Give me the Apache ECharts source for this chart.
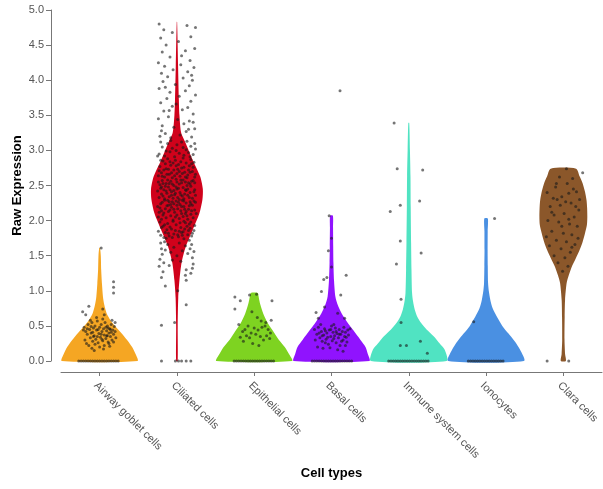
<!DOCTYPE html>
<html>
<head>
<meta charset="utf-8">
<script src="https://cdn.jsdelivr.net/npm/echarts@6/dist/echarts.min.js"></script>
<style>
html,body{margin:0;padding:0;background:#fff;}
#chart{width:603px;height:489px;}
</style>
</head>
<body>
<div id="chart"></div>
<script>
// ---------- DATA ----------
var categories = ['Airway goblet cells','Ciliated cells','Epithelial cells','Basal cells','Immune system cells','Ionocytes','Clara cells'];
var colors = ['#F5A623','#D0021B','#7ED321','#9013FE','#50E3C2','#4A90E2','#8B572A'];
var yTicks = ['0.0','0.5','1.0','1.5','2.0','2.5','3.0','3.5','4.0','4.5','5.0'];

// violin density profiles: [expression value, relative half-width]
var airwayDensity = [[0,0.98],[0.1,0.93],[0.2,0.84],[0.3,0.71],[0.4,0.56],[0.49,0.41],[0.58,0.28],[0.68,0.18],[0.8,0.12],[0.92,0.085],[1.1,0.06],[1.3,0.04],[1.5,0.03],[1.61,0.01]];
var ciliatedDensity = [[0,0.02],[0.5,0.02],[0.9,0.034],[1.15,0.065],[1.4,0.12],[1.63,0.23],[1.87,0.41],[2.1,0.58],[2.3,0.66],[2.45,0.67],[2.63,0.6],[2.86,0.41],[3.1,0.23],[3.25,0.11],[3.5,0.065],[3.72,0.05],[4.2,0.03],[4.83,0.005]];
var epithelialDensity = [[0,0.98],[0.1,0.9],[0.2,0.79],[0.3,0.64],[0.44,0.47],[0.56,0.33],[0.68,0.23],[0.8,0.16],[0.87,0.13],[0.93,0.11],[0.97,0.09]];
var basalDensity = [[0,0.98],[0.1,0.94],[0.2,0.88],[0.3,0.75],[0.44,0.56],[0.56,0.4],[0.68,0.26],[0.8,0.16],[0.92,0.1],[1.15,0.065],[1.4,0.05],[1.63,0.044],[1.9,0.04],[2.07,0.035]];
var immuneDensity = [[0,0.98],[0.16,0.93],[0.25,0.8],[0.35,0.65],[0.45,0.46],[0.54,0.32],[0.63,0.22],[0.73,0.155],[0.85,0.11],[0.97,0.085],[1.3,0.07],[1.68,0.06],[2.2,0.05],[2.63,0.044],[3.0,0.03],[3.39,0.012]];
var ionocytesDensity = [[0,0.98],[0.16,0.88],[0.28,0.74],[0.39,0.58],[0.5,0.42],[0.63,0.28],[0.75,0.17],[0.87,0.11],[1.0,0.07],[1.11,0.052],[1.35,0.044],[1.58,0.04],[1.85,0.042],[2.03,0.045]];
var claraDensity = [[0,0.065],[0.1,0.045],[0.3,0.03],[0.63,0.034],[0.87,0.044],[1.11,0.085],[1.22,0.14],[1.34,0.215],[1.46,0.32],[1.58,0.42],[1.7,0.5],[1.82,0.56],[1.94,0.61],[2.06,0.62],[2.18,0.615],[2.29,0.6],[2.41,0.56],[2.53,0.5],[2.63,0.42],[2.74,0.33]];

// jittered cells: [jitter (hundredths of a band), expression value]
var airwayPoints = [[2,1.61],[18,1.13],[18,1.05],[18,0.97],[-14,0.78],[-22,0.70],[-18,0.66],[6,0.66],[20,0.55],[4,0.74],
[-20,0.48],[-18,0.42],[-16,0.38],[-15,0.52],[-13,0.45],[-12,0.33],[-11,0.40],[-10,0.55],[-9,0.28],[-8,0.47],[-7,0.36],[-6,0.50],[-5,0.31],[-4,0.44],[-3,0.57],[-2,0.26],[-1,0.39],[0,0.48],[1,0.34],[2,0.52],[3,0.42],[4,0.29],[5,0.46],[6,0.37],[7,0.55],[8,0.32],[9,0.43],[10,0.50],[11,0.27],[12,0.40],[13,0.46],[14,0.35],[15,0.52],[16,0.30],[17,0.44],[18,0.38],[19,0.49],[20,0.42],[21,0.33],[-19,0.30],[-17,0.25],[-14,0.22],[-12,0.58],[-10,0.18],[-8,0.35],[-6,0.24],[-4,0.62],[-2,0.45],[0,0.20],[2,0.38],[4,0.60],[6,0.22],[8,0.48],[10,0.36],[12,0.25],[14,0.45],[16,0.58],[18,0.27],[-21,0.44],[-16,0.46],[-9,0.41],[-3,0.35],[3,0.31],[9,0.36],[15,0.41],[-7,0.15],[5,0.17],[11,0.47],[-11,0.49],[13,0.21],
[-27,0],[-24,0],[-21,0],[-18,0],[-15,0],[-12,0],[-9,0],[-6,0],[-3,0],[0,0],[3,0],[6,0],[9,0],[12,0],[15,0],[18,0],[21,0],[24,0]];

var ciliatedPoints = [[-20,0],[-2,0],[2,0],[6,0],[12,0],[18,0],
[-20,0.51],[-3,0.55],[12,0.80],[1,1.00],[-15,1.07],[-20,1.19],[12,1.15],[11,1.22],[20,1.32],
[-22,1.45],[-19,1.52],[-17,1.40],[-20,1.60],[-15,1.58],[-12,1.66],[-8,1.55],[-4,1.62],[0,1.50],[3,1.68],[7,1.57],[11,1.64],[14,1.53],[17,1.60],[20,1.47],[22,1.56],[-21,1.68],[-16,1.70],[16,1.72],[19,1.66],[-23,1.35],[21,1.38],[-6,1.44],[5,1.42],[-10,1.36],[12,1.30],[-18,1.27],[18,1.25],[-14,1.75],[9,1.74],
[-24,1.85],[-21,1.79],[-18,1.92],[-15,1.83],[-12,1.96],[-10,1.78],[-7,1.88],[-4,1.81],[-1,1.94],[2,1.77],[5,1.90],[8,1.84],[11,1.97],[14,1.80],[17,1.89],[20,1.82],[23,1.93],[-22,1.98],[-17,1.76],[-13,1.87],[-9,1.91],[-5,1.99],[-2,1.86],[1,1.80],[4,1.97],[7,1.79],[10,1.88],[13,1.92],[16,1.95],[19,1.78],[22,1.86],[-20,1.90],[-11,1.82],[-6,1.76],[3,1.85],[9,1.99],[15,1.86],[18,1.98],[-16,1.94],[6,1.83],
[-24,2.05],[-22,2.18],[-20,2.02],[-19,2.26],[-17,2.11],[-16,2.29],[-14,2.04],[-13,2.21],[-11,2.13],[-10,2.27],[-8,2.07],[-7,2.19],[-5,2.01],[-4,2.24],[-3,2.12],[-1,2.28],[0,2.08],[1,2.17],[3,2.03],[4,2.23],[5,2.14],[7,2.29],[8,2.06],[9,2.20],[11,2.10],[12,2.25],[14,2.02],[15,2.16],[17,2.27],[18,2.09],[20,2.22],[21,2.04],[23,2.15],[24,2.26],
[-23,2.12],[-21,2.24],[-18,2.08],[-15,2.17],[-12,2.29],[-9,2.15],[-6,2.27],[-2,2.05],[2,2.26],[6,2.10],[10,2.16],[13,2.07],[16,2.21],[19,2.14],[22,2.28],[-20,2.14],[-11,2.22],[-4,2.16],[6,2.20],[12,2.13],[18,2.24],[-25,2.20],[25,2.10],[0,2.22],[-8,2.23],[9,2.28],
[-25,2.42],[-23,2.33],[-22,2.51],[-20,2.38],[-19,2.57],[-17,2.44],[-16,2.31],[-14,2.53],[-13,2.39],[-11,2.48],[-10,2.34],[-8,2.56],[-7,2.41],[-5,2.32],[-4,2.50],[-3,2.37],[-1,2.59],[0,2.45],[1,2.33],[3,2.52],[4,2.40],[5,2.58],[7,2.35],[8,2.47],[9,2.31],[11,2.55],[12,2.43],[14,2.36],[15,2.54],[17,2.40],[18,2.49],[20,2.32],[21,2.57],[23,2.44],[24,2.36],
[-24,2.55],[-21,2.46],[-18,2.35],[-15,2.49],[-12,2.58],[-9,2.44],[-6,2.52],[-2,2.39],[2,2.46],[6,2.54],[10,2.38],[13,2.50],[16,2.33],[19,2.56],[22,2.41],[-20,2.48],[-14,2.42],[-7,2.36],[-1,2.48],[5,2.37],[11,2.44],[17,2.52],[23,2.54],[-18,2.53],[0,2.55],[8,2.58],[-10,2.53],[14,2.45],[-4,2.43],[3,2.30],
[-24,2.64],[-22,2.77],[-20,2.68],[-18,2.85],[-16,2.62],[-14,2.74],[-12,2.88],[-10,2.66],[-8,2.79],[-6,2.61],[-4,2.72],[-2,2.86],[0,2.67],[2,2.80],[4,2.63],[6,2.75],[8,2.89],[10,2.69],[12,2.82],[14,2.65],[16,2.78],[18,2.87],[20,2.70],[22,2.83],[24,2.66],
[-23,2.71],[-19,2.63],[-15,2.81],[-11,2.73],[-7,2.68],[-3,2.64],[1,2.73],[5,2.84],[9,2.76],[13,2.61],[17,2.69],[21,2.76],[-17,2.72],[-9,2.84],[-1,2.78],[7,2.67],[15,2.72],[-13,2.66],[3,2.70],[11,2.62],[19,2.81],[-5,2.82],[23,2.62],[-21,2.86],
[-23,2.95],[-19,3.05],[-16,2.92],[-12,3.10],[-9,2.98],[-6,3.03],[-3,2.91],[0,3.08],[3,2.96],[6,3.12],[9,2.93],[12,3.01],[15,2.97],[18,3.06],[21,2.94],[24,3.02],[-21,3.12],[-14,2.99],[-1,3.00],[8,3.04],[17,2.91],[-8,3.14],[13,3.13],[-25,2.92],[23,3.10],
[-22,3.20],[-15,3.24],[-8,3.18],[4,3.22],[12,3.27],[19,3.19],[23,3.31],[-19,3.35],[-4,3.33],[9,3.38],[16,3.42],[-24,3.45],[-11,3.48],[1,3.44],[21,3.52],[-17,3.56],[7,3.58],[14,3.61],[-6,3.63],[-21,3.68],[18,3.70],[-13,3.74],[3,3.77],[24,3.79],[-9,3.83],[11,3.85],[-23,3.88],[16,3.92],[-2,3.94],[-18,3.98],[20,4.00],[8,4.03],[-12,4.05],[-20,4.10],[14,4.12],[-5,4.15],[22,4.18],[-16,4.20],[5,4.22],[-24,4.25],[17,4.28],[-9,4.33],[-19,4.40],[11,4.42],[23,4.45],[-14,4.50],[2,4.55],[-21,4.60],[18,4.62],[-6,4.68],[-17,4.72],[24,4.75],[-23,4.80],[13,4.78],[-10,3.57],[-15,3.90],[21,3.40],[6,4.35],[-1,3.66],[19,4.07],[-20,3.28],[15,3.30]];

var epithelialPoints = [[-25,0.91],[-18,0.86],[-25,0.74],[-6,0.94],[3,0.95],[23,0.86],[-3,0.70],[4,0.62],[-8,0.50],[-12,0.45],[-15,0.42],[-4,0.40],[0,0.47],[5,0.44],[10,0.48],[14,0.50],[18,0.45],[21,0.40],[-10,0.36],[-6,0.33],[2,0.38],[8,0.35],[12,0.30],[16,0.36],[20,0.32],[-14,0.28],[-2,0.25],[6,0.22],[-18,0.34],[15,0.55],[9,0.57],[-20,0.52],[22,0.58],
[-26,0],[-23,0],[-20,0],[-17,0],[-14,0],[-11,0],[-8,0],[-5,0],[-2,0],[1,0],[4,0],[7,0],[10,0],[13,0],[16,0],[19,0],[22,0],[25,0]];

var basalPoints = [[11,3.85],[-3,2.07],[0,1.75],[-4,1.57],[0,1.34],[-10,1.16],[-6,1.19],[19,1.22],[-13,0.99],[12,0.94],[-9,0.77],[-20,0.69],[-17,0.61],[17,0.61],[8,0.68],[-22,0.45],[-19,0.38],[-17,0.48],[-15,0.33],[-13,0.42],[-12,0.28],[-10,0.37],[-9,0.46],[-7,0.31],[-6,0.40],[-4,0.24],[-3,0.44],[-1,0.35],[0,0.50],[1,0.29],[2,0.41],[4,0.36],[5,0.47],[6,0.26],[7,0.39],[9,0.33],[10,0.45],[11,0.22],[12,0.38],[14,0.42],[15,0.30],[16,0.48],[17,0.35],[18,0.41],[20,0.27],[21,0.44],[-21,0.30],[-18,0.20],[-14,0.52],[-11,0.18],[-8,0.26],[-5,0.34],[-2,0.19],[3,0.52],[8,0.16],[13,0.28],[19,0.34],[22,0.37],[-16,0.40],[-8,0.43],[3,0.32],[10,0.38],[15,0.14],[-1,0.45],[6,0.42],[-12,0.36],[18,0.22],[24,0.46],
[-25,0],[-22,0],[-19,0],[-16,0],[-13,0],[-10,0],[-7,0],[-4,0],[-1,0],[2,0],[5,0],[8,0],[11,0],[14,0],[17,0],[20,0],[23,0],[26,0]];

var immunePoints = [[-19,3.39],[-15,2.74],[18,2.72],[-11,2.22],[14,2.28],[-24,2.13],[-11,1.71],[16,1.54],[-16,1.38],[-10,0.88],[-10,0.55],[-11,0.22],[-3,0.22],[15,0.28],[24,0.11],
[-26,0],[-23,0],[-20,0],[-17,0],[-14,0],[-11,0],[-8,0],[-5,0],[-2,0],[1,0],[4,0],[7,0],[10,0],[13,0],[16,0],[19,0],[22,0],[25,0]];

var ionocytesPoints = [[11,2.03],[-16,0.56],
[-23,0],[-20,0],[-17,0],[-14,0],[-11,0],[-8,0],[-5,0],[-2,0],[1,0],[4,0],[7,0],[10,0],[13,0],[16,0],[19,0],[22,0]];

var claraPoints = [[4,2.74],[25,2.68],[-9,2.53],[5,2.53],[13,2.45],[-13,2.32],[-8,2.30],[-2,2.34],[7,2.39],[17,2.41],[-17,2.20],[-4,2.22],[10,2.25],[20,2.15],[-12,2.08],[1,2.10],[14,2.05],[-20,2.00],[-6,1.98],[8,1.95],[18,1.92],[-15,1.85],[0,1.82],[11,1.80],[-9,1.72],[4,1.70],[15,1.66],[-18,1.64],[-3,1.60],[9,1.55],[-12,1.50],[2,1.47],[-7,1.40],[6,1.35],[-1,1.28],[21,2.30],[-21,2.40],[12,2.60],[-5,2.62],[16,2.20],[-10,2.48],[3,2.27],[-15,2.12],[19,1.75],[-22,1.77],[7,2.02],[-2,1.92],[11,1.62],
[-21,0],[7,0]];

// ---------- BUILD ----------
var densities = [airwayDensity, ciliatedDensity, epithelialDensity, basalDensity, immuneDensity, ionocytesDensity, claraDensity];
var pointSets = [airwayPoints, ciliatedPoints, epithelialPoints, basalPoints, immunePoints, ionocytesPoints, claraPoints];

var scatterData = [];
pointSets.forEach(function (set, ci) {
  set.forEach(function (p) { scatterData.push([ci + p[0] / 100, p[1]]); });
});

var FONT = '"Liberation Sans", Arial, Helvetica, sans-serif';
var AXIS_COLOR = '#777';

var chart = echarts.init(document.getElementById('chart'), null, {renderer: 'canvas'});
chart.setOption({
  animation: false,
  backgroundColor: '#fff',
  grid: {left: 61, right: 1, top: 10, bottom: 128, containLabel: false},
  xAxis: [{
    type: 'category',
    data: categories,
    boundaryGap: true,
    offset: 11,
    name: 'Cell types',
    nameLocation: 'middle',
    nameGap: 95,
    nameMoveOverlap: false,
    nameTextStyle: {fontFamily: FONT, fontSize: 13, fontWeight: 'bold', color: '#000'},
    axisLine: {show: true, onZero: false, lineStyle: {color: AXIS_COLOR, width: 1}},
    axisTick: {show: true, alignWithLabel: true, length: 4, lineStyle: {color: AXIS_COLOR}},
    axisLabel: {rotate: -45, margin: 8, verticalAlign: 'top', fontFamily: FONT, fontSize: 11, color: '#555', interval: 0},
    splitLine: {show: false}
  }, {
    type: 'value', min: -0.5, max: 6.5, show: false
  }],
  yAxis: {
    type: 'value',
    min: 0, max: 5, interval: 0.5,
    offset: 10,
    name: 'Raw Expression',
    nameLocation: 'middle',
    nameGap: 27,
    nameMoveOverlap: false,
    nameTextStyle: {fontFamily: FONT, fontSize: 13, fontWeight: 'bold', color: '#000'},
    axisLine: {show: true, onZero: false, lineStyle: {color: AXIS_COLOR, width: 1}},
    axisTick: {show: true, length: 5, lineStyle: {color: AXIS_COLOR}},
    axisLabel: {margin: 7, fontFamily: FONT, fontSize: 11, color: '#555',
      formatter: function (v) { var i = Math.round(v * 2); return yTicks[i] !== undefined ? yTicks[i] : v.toFixed(1); }},
    splitLine: {show: false}
  },
  series: [{
    type: 'custom',
    xAxisIndex: 0,
    data: categories.map(function (c, i) { return [i]; }),
    renderItem: function (params, api) {
      var ci = api.value(0);
      var prof = densities[ci];
      var half = api.size([1, 0])[0] / 2;
      var pts = [];
      var k, c;
      for (k = 0; k < prof.length; k++) {
        c = api.coord([ci, prof[k][0]]);
        pts.push([c[0] + prof[k][1] * half, c[1]]);
      }
      for (k = prof.length - 1; k >= 0; k--) {
        c = api.coord([ci, prof[k][0]]);
        pts.push([c[0] - prof[k][1] * half, c[1]]);
      }
      return {
        type: 'polygon',
        shape: {points: pts, smooth: 0.25},
        style: {fill: colors[ci], stroke: null}
      };
    },
    z: 2
  }, {
    type: 'scatter',
    xAxisIndex: 1,
    data: scatterData,
    symbol: 'circle',
    symbolSize: 3,
    itemStyle: {color: 'rgba(25,25,25,0.75)'},
    z: 3
  }]
});
</script>
</body>
</html>
